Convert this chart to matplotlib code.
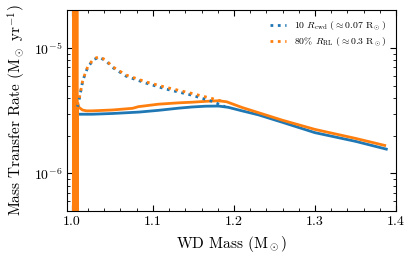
import matplotlib
matplotlib.use("Agg")
import matplotlib.pyplot as plt

plt.rcParams['font.family'] = 'serif'
plt.rcParams['font.serif'] = ['cmr10', 'DejaVu Serif']
plt.rcParams['mathtext.fontset'] = 'cm'
plt.rcParams['axes.formatter.use_mathtext'] = True
plt.rcParams['axes.unicode_minus'] = False

# Solid (unlabelled) tracks
blue_solid_m = [1.006, 1.025, 1.05, 1.083, 1.107, 1.132, 1.148, 1.165, 1.181, 1.193, 1.21, 1.23, 1.26, 1.3, 1.35, 1.388]
blue_solid_r = [2.96e-6, 2.96e-6, 3.0e-6, 3.08e-6, 3.18e-6, 3.31e-6, 3.38e-6, 3.43e-6, 3.44e-6, 3.36e-6, 3.15e-6, 2.93e-6, 2.55e-6, 2.11e-6, 1.8e-6, 1.56e-6]

orange_spike_m = [1.0018, 1.0021, 1.0024, 1.0027, 1.003, 1.0033, 1.0036, 1.0039, 1.0042, 1.0045,
                  1.0048, 1.0051, 1.0054, 1.0057, 1.006, 1.0063, 1.0066, 1.0068]
orange_spike_r = [1e-7, 1e-4, 1e-7, 1e-4, 1e-7, 1e-4, 1e-7, 1e-4, 1e-7, 1e-4,
                  1e-7, 1e-4, 1e-7, 1e-4, 1e-7, 1e-4, 1e-7, 3.6e-6]
orange_solid_m = [1.009, 1.013, 1.018, 1.025, 1.05, 1.075, 1.082, 1.107, 1.132, 1.148, 1.165, 1.181, 1.191, 1.21, 1.23, 1.26, 1.3, 1.35, 1.386]
orange_solid_r = [3.35e-6, 3.2e-6, 3.15e-6, 3.15e-6, 3.2e-6, 3.3e-6, 3.4e-6, 3.56e-6, 3.65e-6, 3.69e-6, 3.75e-6, 3.79e-6, 3.72e-6, 3.35e-6, 3.05e-6, 2.65e-6, 2.24e-6, 1.9e-6, 1.67e-6]

# Dotted (labelled) tracks
dot_m = [1.007, 1.0095, 1.0135, 1.0196, 1.027, 1.034, 1.042, 1.050, 1.067, 1.091, 1.116, 1.148, 1.173, 1.189]
blue_dot_r = [3.4e-6, 4.0e-6, 5.5e-6, 7.0e-6, 8.1e-6, 8.4e-6, 7.9e-6, 7.0e-6, 5.95e-6, 5.25e-6, 4.7e-6, 4.2e-6, 3.75e-6, 3.4e-6]
orange_dot_r = [3.5e-6, 4.07e-6, 5.55e-6, 7.1e-6, 8.2e-6, 8.5e-6, 8.0e-6, 7.1e-6, 6.08e-6, 5.37e-6, 4.85e-6, 4.34e-6, 3.95e-6, 3.7e-6]

labels = [r'10 $R_{\rm cwd}$ ($\approx 0.07$ R$_\odot$)', r'80% $R_{\rm RL}$ ($\approx 0.3$ R$_\odot$)']

blue = '#1f77b4'
orange = '#ff7f0e'

fig = plt.figure(figsize=(4.16, 2.6), dpi=100)
ax = fig.add_axes([0.161, 0.188, 0.791, 0.773])

ax.plot(blue_solid_m, blue_solid_r, color=blue, lw=2)
ax.plot(orange_spike_m + orange_solid_m, orange_spike_r + orange_solid_r, color=orange, lw=2)
ax.plot(dot_m, blue_dot_r, color=blue, lw=2, ls=':', label=labels[0])
ax.plot(dot_m, orange_dot_r, color=orange, lw=2, ls=':', label=labels[1])

ax.set_yscale('log')
ax.set_xlim(0.994, 1.4)
ax.set_ylim(5e-7, 2e-5)
ax.set_xticks([1.0, 1.1, 1.2, 1.3, 1.4])
ax.set_xticklabels(['1.0', '1.1', '1.2', '1.3', '1.4'])
ax.minorticks_on()
ax.tick_params(which='both', direction='in', top=True, right=True, labelsize=10)
ax.tick_params(which='major', length=4)
ax.tick_params(which='minor', length=2)
ax.set_xlabel(r'WD Mass (M$_\odot$)', fontsize=11)
ax.set_ylabel(r'Mass Transfer Rate (M$_\odot$ yr$^{-1}$)', fontsize=11)
ax.legend(loc='upper right', frameon=False, fontsize=7, handlelength=1.6,
          labelspacing=0.3, borderaxespad=0.6)

fig.savefig('out.png', dpi=100)
